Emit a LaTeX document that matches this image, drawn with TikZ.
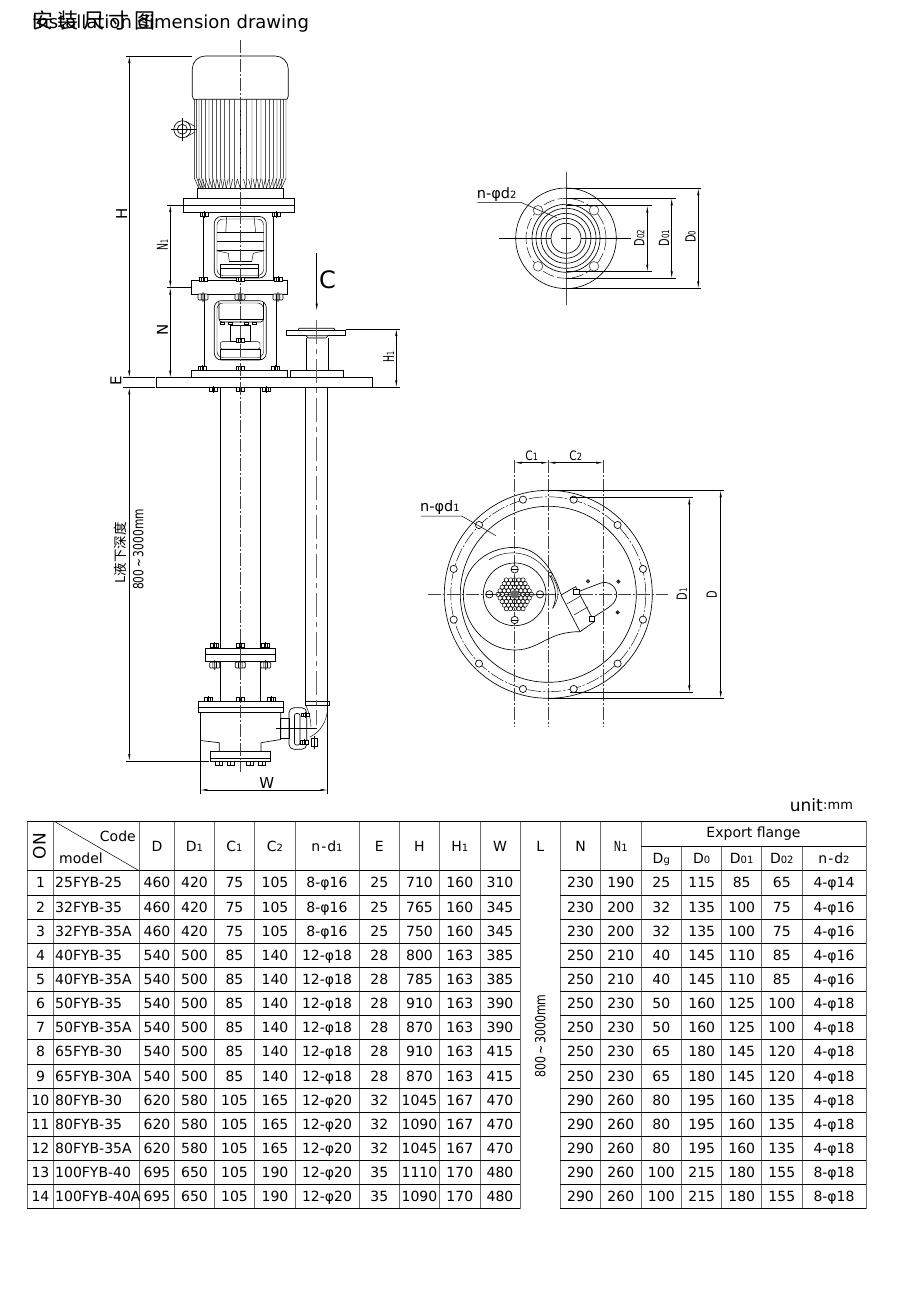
\documentclass[tikz,border=0pt]{standalone}
\usepackage{fontspec}
\setmainfont{DejaVu Sans}
\newfontfamily\cjkfont{Noto Sans CJK SC}
\usetikzlibrary{arrows.meta}

\newcommand{\sm}[1]{{\fontsize{10}{10}\selectfont #1}}
\newcommand{\pinch}[1]{\scalebox{.7}[1]{#1}}
\newcommand{\nutsmall}[2]{\draw[line width=.55pt,shift={(#1,#2)},fill=white] (-4,-1.8) rectangle (4,1.8) (-1.4,-1.8) -- (-1.4,1.8) (1.4,-1.8) -- (1.4,1.8) (0,-3.2) -- (0,3.2);}
\newcommand{\nutbig}[2]{\draw[line width=.65pt,shift={(#1,#2)},fill=white,rounded corners=1pt] (-5,-3) rectangle (5,3) (-1.8,-3) -- (-1.8,3) (1.8,-3) -- (1.8,3) (0,-5) -- (0,5);}

\tikzset{
  part/.style={line width=.65pt},
  thinpart/.style={line width=.45pt},
  dimline/.style={line width=.5pt,>={Latex[length=7pt,width=2.2pt]},<->},
  extline/.style={line width=.5pt},
  centerline/.style={line width=.5pt,black!75,dash pattern=on 13pt off 2pt on 2pt off 2pt},
  pipeaxis/.style={line width=1pt,black!60,dash pattern=on 24pt off 5pt on 5pt off 5pt},
  dimtext/.style={font=\fontsize{14.5}{16}\selectfont,inner sep=0pt},
  sidetext/.style={font=\fontsize{15}{17}\selectfont,inner sep=0pt,rotate=90},
  tabtext/.style={font=\fontsize{14}{16}\selectfont,inner sep=0pt,text height=10.2pt,text depth=0pt},
  tabrule/.style={line width=.7pt,black},
  tabcol/.style={line width=.95pt,black!58},
}

\begin{document}
\begin{tikzpicture}[x=1pt,y=-1pt]
\useasboundingbox (0,0) rectangle (920,1304);

\node[anchor=west,inner sep=0pt,font=\cjkfont\fontsize{21}{24}\selectfont] (titlezh) at (32,20.5) {安\hspace{4.5pt}装\hspace{4.5pt}尺\hspace{4.5pt}寸\hspace{4.5pt}图};
\node[anchor=west,inner sep=0pt,font=\fontsize{18}{22}\selectfont] (titleen) at (32,24) {Installation dimension drawing};

% motor
\draw[part,rounded corners=13pt] (192.3,96) -- (192.3,56) -- (288.3,56) -- (288.3,96);
\draw[part] (192.3,96) -- (193.5,99.3) -- (287,99.3) -- (288.3,96);
\foreach \rib in {194.3,196.7,199,201.7,205.3,209,212.7,216.7,220.7,224.7,229.3,234.3,240.3,246.7,252,256.7,261,265.7,269.3,273.3,277,280.3,283.3,286}{
  \draw[thinpart] (\rib,99.3) -- (\rib,178) -- ({240.3+(\rib-240.3)*.9},188.3);
  \draw[thinpart] ({240.3+(\rib-240.3)*.9},188.3) -- ({\rib+(240.3-\rib)*.03+3*(\rib<240)-3*(\rib>240)},179);
}
\draw[part] (197.7,188.3) rectangle (283.7,198.3);
\draw[part] (183.3,198.3) rectangle (294.3,212.7);
\draw[thinpart] (183.3,205) -- (294.3,205);

\draw[part] (182.3,129.3) circle (8.5);
\draw[part] (182.3,129.3) circle (5);
\draw[thinpart] (171,129.3) -- (197,129.3) (182.3,118) -- (182.3,141);
\draw[thinpart] (186,121.5) -- (195,126.5) (186,137) -- (195,132);

% upper lantern
\draw[part] (203.3,212.7) -- (203.3,280.3) (273.3,212.7) -- (273.3,280.3);
\draw[part,rounded corners=7pt] (214.3,216.5) rectangle (266.3,278);
\draw[thinpart,rounded corners=6pt] (217,219) rectangle (263.5,275.5);
\draw[thinpart] (216.7,232.7) -- (264.3,232.7) (216.7,241.7) -- (264.3,241.7);
\draw[part] (216.7,250.7) -- (264.3,250.7);
\draw[thinpart] (226.7,217) -- (225.7,232.7) (254,217) -- (255.7,232.7);
\draw[thinpart] (216.7,250.7) -- (228.3,253.3) -- (229.3,261.7) -- (251.7,261.7) -- (253.3,253.3) -- (264.3,250.7);
\draw[line width=1.2pt] (229.3,261.7) -- (251.7,261.7);
\draw[thinpart] (220,264.3) rectangle (258.7,277.3) (220,268.3) -- (258.7,268.3);
\nutsmall{204}{214.5}
\nutsmall{276}{214.5}

\draw[part] (191.3,280.3) rectangle (287,294.7);
\nutsmall{203}{279}
\nutsmall{240}{279}
\nutsmall{278}{279}
\nutbig{203}{297}
\nutbig{240}{297}
\nutbig{278}{297}

% lower lantern
\draw[part] (204.3,294.7) -- (204.3,370.7) (276,294.7) -- (276,370.7);
\draw[part,rounded corners=7pt] (214.3,300.7) rectangle (266.3,360);
\draw[thinpart,rounded corners=6pt] (217,303) rectangle (263.5,357.5);
\draw[part,rounded corners=3pt] (219,302) -- (219,322) -- (263.5,322) -- (263.5,302);
\draw[thinpart] (219,319) -- (263.5,319);
\foreach \sx in {222,230,246,254}{
  \draw[thinpart] (\sx-2,322) rectangle (\sx+2,324.5);
}
\draw[thinpart] (230.7,325) rectangle (250.7,341.7);
\draw[thinpart,rounded corners=2pt] (220.3,341.7) rectangle (260,349);
\draw[thinpart] (220.3,349) rectangle (260,359);
\nutsmall{240}{340}

\draw[part] (191.3,370.7) rectangle (287.3,377.7);
\draw[part] (290.3,370.7) rectangle (343.3,377.7);
\draw[part] (156.3,377.7) rectangle (372,387.3);
\nutsmall{202}{368}
\nutsmall{240}{368}
\nutsmall{275.5}{368}
\nutsmall{213.3}{389.5}
\nutsmall{240.3}{389.5}
\nutsmall{266.7}{389.5}

% outlet pipe
\draw[part] (286,330) rectangle (345.7,335.7);
\draw[part] (298,330) -- (299,328.3) -- (334,328.3) -- (335,330);
\draw[part,fill=black!10] (306,335.7) -- (308,338) -- (326,338) -- (328,335.7);
\draw[part] (306,338) -- (306,370.7) (328,338) -- (328,370.7);
\draw[part] (305.7,387.3) -- (305.7,701.7) (327.7,387.3) -- (327.7,794);
\draw[part] (305,701.7) rectangle (329,705);
\draw[thinpart] (327.7,705) .. controls (327.7,722) and (320,732) .. (310,737);
\draw[thinpart] (305.7,705) .. controls (309,712) and (311,720) .. (311,727);

% shaft and column
\draw[part] (220.3,387.3) -- (220.3,648.3) (260.3,387.3) -- (260.3,648.3);
\draw[part] (205.7,648.3) rectangle (275.3,661.3);
\draw[thinpart] (205.7,654.3) -- (275.3,654.3);
\draw[part] (220.3,661.3) -- (220.3,701) (260.3,661.3) -- (260.3,701);
\nutsmall{214.7}{645.5}
\nutsmall{240.3}{645.5}
\nutsmall{265.7}{645.5}
\nutbig{214.7}{665}
\nutbig{240.3}{665}
\nutbig{265.7}{665}
\nutsmall{208.7}{699}
\nutsmall{240.3}{699}
\nutsmall{271.7}{699}

% pump casing
\draw[part] (198.3,701) rectangle (283,712);
\draw[thinpart] (198.3,707.3) -- (283,707.3);
\draw[part] (200.3,712) -- (200.3,794);
\draw[part] (200.3,740.5) -- (219.3,742.7) -- (219.3,751.7);
\draw[part] (280.7,712) -- (280.7,739.5) -- (261,742.7) -- (261,751.7);
\draw[part] (210.7,751.7) rectangle (270.3,761.7);
\draw[thinpart] (210.7,758.3) -- (270.3,758.3);
\foreach \fx in {219,230.7,250,262}{
  \draw[thinpart] (\fx-3.5,761.7) rectangle (\fx+3.5,765);
  \draw[thinpart] (\fx,761.7) -- (\fx,765);
}
\draw[part] (280.7,718) rectangle (289,738);
\draw[part,rounded corners=5pt] (289,707.7) rectangle (306.7,749.3);
\draw[part,rounded corners=2pt] (294.5,713.5) rectangle (300,745);
\nutsmall{305}{714.7}
\nutsmall{304}{742}
\draw[thinpart] (311,738.5) rectangle (317.5,746);
\draw[thinpart] (314.3,736) -- (314.3,749);
\draw[line width=.7pt] (275.7,728.3) -- (316.7,728.3);

% center lines
\draw[centerline] (240.3,40) -- (240.3,771.7);
\draw[pipeaxis] (316.7,320) -- (316.7,725);

% arrow C
\draw[line width=.5pt,->,>={Latex[length=7pt,width=2.2pt]}] (316.7,253.3) -- (316.7,310.7);
\node[inner sep=0pt,font=\fontsize{24}{26}\selectfont] (viewc) at (327.5,279.5) {C};

% dimensions of the pump
\draw[extline] (126,56) -- (192.3,56);
\draw[extline] (123,377.7) -- (155,377.7) (123,387.3) -- (155,387.3);
\draw[extline] (126,761) -- (209,761);
\draw[dimline] (129.3,56) -- (129.3,377.7);
\draw[dimline] (129.3,387.3) -- (129.3,761);
\node[sidetext] (labelH) at (121.7,214.3) {H};
\node[sidetext] (labelE) at (116,380.5) {E};
\node[sidetext,font=\cjkfont\fontsize{13.5}{15}\selectfont] (labelL) at (120,553) {L液下深度};
\node[sidetext,font=\fontsize{14}{16}\selectfont] (labelLrange) at (138.3,549.5) {\scalebox{.76}[1]{800\,\textasciitilde\,3000mm}};

\draw[extline] (166.7,205) -- (183.3,205) (166.7,287.7) -- (191.3,287.7);
\draw[dimline] (170.3,205) -- (170.3,287.7);
\draw[dimline] (170.3,287.7) -- (170.3,377.7);
\node[sidetext] (labelNa) at (162.3,245) {\scalebox{.62}[1]{N\sm{1}}};
\node[sidetext] (labelN) at (162.3,330) {N};

\draw[extline] (345.7,329) -- (400,329) (372,387.3) -- (400,387.3);
\draw[dimline] (396.3,329) -- (396.3,387.3);
\node[sidetext] (labelHa) at (388.7,356.7) {\scalebox{.62}[1]{H\sm{1}}};

\draw[dimline] (200.3,790) -- (327.7,790);
\node[inner sep=0pt,font=\fontsize{15}{17}\selectfont] (labelW) at (266.7,783) {W};

% export flange view
\draw[part] (566,238.3) circle (50.3);
\draw[thinpart,dash pattern=on 12pt off 3pt] (566,238.3) circle (40);
\foreach \rr in {15,20,25,30,34}{
  \draw[part] (566,238.3) circle (\rr);
}
\foreach \hx/\hy in {538/210.3,594/210.3,538/266.3,594/266.3}{
  \draw[part,black!70,fill=white] (\hx,\hy) circle (4.8);
}
\draw[line width=.6pt,black!70] (566,171.7) -- (566,305);
\draw[line width=.6pt] (499.3,238.3) -- (551,238.3) (581,238.3) -- (631,238.3) (561,238.3) -- (571,238.3);
\draw[extline] (566,188.3) -- (701,188.3) (566,288.3) -- (701,288.3);
\draw[extline] (566,198.3) -- (676,198.3) (566,278.3) -- (676,278.3);
\draw[extline] (566,205.7) -- (651.7,205.7) (566,271.5) -- (651.7,271.5);
\draw[dimline] (698.3,188.3) -- (698.3,288.3);
\draw[dimline] (671.7,198.3) -- (671.7,278.3);
\draw[dimline] (647.3,205.7) -- (647.3,271.5);
\node[sidetext,font=\fontsize{14}{16}\selectfont] (labelDb) at (639.3,238) {\pinch{D\sm{02}}};
\node[sidetext,font=\fontsize{14}{16}\selectfont] (labelDa) at (664,238) {\pinch{D\sm{01}}};
\node[sidetext,font=\fontsize{14}{16}\selectfont] (labelDo) at (690.7,236.7) {\pinch{D\sm{0}}};
\node[dimtext] (labelhb) at (496.7,194.3) {n-φd\sm{2}};
\draw[extline] (477.3,202.3) -- (520.7,202.3) -- (556.7,217.7);

% base plate view
\draw[part] (548.3,594.3) circle (104);
\draw[part] (548.3,594.3) circle (88);
\draw[thinpart,dash pattern=on 14pt off 2pt on 2pt off 2pt] (548.3,594.3) circle (97.5);
\foreach \ang in {15,45,...,345}{
  \draw[part,fill=white] (548.3,594.3) ++(\ang:-98) circle (3.6);
}
\draw[centerline] (428.3,594.3) -- (668.3,594.3);
\draw[centerline] (548.3,460) -- (548.3,726.7);
\draw[centerline] (514.7,460) -- (514.7,726.7);
\draw[centerline] (603.3,460) -- (603.3,726.7);

\begin{scope}[shift={(410,440)},scale=1/3]
\draw[part] (452,462) .. controls (440,420) and (400,322) .. (314,322) .. controls (225,322) and (160,385) .. (160,463) .. controls (160,560) and (235,630) .. (314,630) .. controls (390,630) and (410,575) .. (510,575);
\draw[thinpart] (237,360) .. controls (270,335) and (350,320) .. (405,385) .. controls (430,415) and (465,450) .. (428,505);
\draw[part] (428,505) .. controls (445,470) and (435,430) .. (415,400);
\draw[part] (497,458) -- (570,430) .. controls (595,420) and (620,440) .. (620,463) .. controls (620,490) and (600,500) .. (553,530);
\draw[part,fill=white] (453,465) -- (497,440) -- (553,545) -- (510,575) -- cycle;
\draw[thinpart] (470,492) -- (512,468) (492,525) -- (535,500);
\draw[part,fill=white] (490,448) rectangle (508,463);
\draw[part,fill=white] (538,528) rectangle (554,544);
\draw[part,fill=white] (421,403) circle (6);
\foreach \dx/\dy in {534/424,625/425,623/517}{
  \draw[part] (\dx,\dy) circle (5);
  \fill (\dx,\dy) circle (2.5);
}
\draw[part] (314,463) circle (94);
\foreach \bx/\by in {314/388,314/540,238/463,390/463}{
  \draw[part,fill=white] (\bx,\by) circle (11);
  \draw[thinpart] (\bx-11,\by) -- (\bx+11,\by);
}
\foreach \i in {-4,...,4}{
  \foreach \j in {-4,...,4}{
    \pgfmathtruncatemacro{\hexin}{abs(\i+\j)<=4 ? 1 : 0}
    \ifnum\hexin=1
      \draw[line width=.5pt] ({314+12.5*\i+6.25*\j},{463+10.8*\j}) circle (6.5);
    \fi
  }
}
\fill[black!60] (314,463) circle (13);
\end{scope}

\draw[extline] (548.3,490.3) -- (724,490.3) (548.3,698.3) -- (724,698.3);
\draw[extline] (570,497.3) -- (692.7,497.3) (570,692.3) -- (692.7,692.3);
\draw[dimline] (720.7,490.3) -- (720.7,698.3);
\draw[dimline] (689.3,497.3) -- (689.3,692.3);
\draw[dimline] (514.7,462.7) -- (548.3,462.7);
\draw[dimline] (548.3,462.7) -- (603.3,462.7);
\node[inner sep=0pt,font=\fontsize{13}{15}\selectfont] (labelCa) at (531.7,455.7) {\scalebox{.82}[1]{C\sm{1}}};
\node[inner sep=0pt,font=\fontsize{13}{15}\selectfont] (labelCb) at (575.7,455.7) {\scalebox{.82}[1]{C\sm{2}}};
\node[sidetext,font=\fontsize{14}{16}\selectfont] (labelDone) at (681.7,594.3) {\pinch{D\sm{1}}};
\node[sidetext,font=\fontsize{14}{16}\selectfont] (labelD) at (711.7,594.3) {\pinch{D}};
\node[dimtext] (labelha) at (440,507.7) {n-φd\sm{1}};
\draw[extline] (421,516) -- (461.7,516) -- (496,535.7);

% table
\node[anchor=east,inner sep=0pt,font=\fontsize{17}{20}\selectfont] (unitname) at (823,805) {unit};
\node[anchor=west,inner sep=0pt,font=\fontsize{13}{15}\selectfont] (unitvalue) at (823,805.5) {:mm};

\foreach \cx in {27.3,53.7,139,174.7,214.7,254.7,295,359.3,399.3,439.7,480,520.3,560.3,600.7,641,866}{
  \draw[tabcol] (\cx,821) -- (\cx,1208.8);
}
\foreach \cx in {681.7,721.7,761.7,802}{
  \draw[tabcol] (\cx,846) -- (\cx,1208.8);
}
\draw[tabrule] (27.3,821) -- (866,821);
\draw[tabrule] (641,846) -- (866,846);
\foreach \rk in {0,...,14}{
  \pgfmathsetmacro{\ry}{870.7+24.15*\rk}
  \draw[tabrule] (27.3,\ry) -- (520.3,\ry) (560.3,\ry) -- (866,\ry);
}
\draw[line width=.5pt] (53.7,821) -- (139,870.7);

\node[rotate=90,inner sep=0pt,font=\fontsize{17}{20}\selectfont] (headno) at (39.5,846) {ON};
\node[anchor=east,tabtext] (headcode) at (136,836) {Code};
\node[anchor=west,tabtext] (headmodel) at (59,858) {model};
\foreach \cx/\val [count=\k] in {157/D,194.5/D\sm{1},234.5/C\sm{1},275/C\sm{2},327/n\kern1pt-\kern1pt d\sm{1},379.3/E,419.5/H,459.8/H\sm{1},500/W,540.3/L,580.5/N,620.8/\pinch{N}\sm{1}}{
  \node[tabtext] (head\k) at (\cx,846) {\val};
}
\node[tabtext] (headflange) at (753.5,832.5) {Export flange};
\foreach \cx/\val [count=\k] in {661.3/D\sm{g},701.7/D\sm{0},741.7/D\sm{01},781.8/D\sm{02},834/n\kern1pt-\kern1pt d\sm{2}}{
  \node[tabtext] (sub\k) at (\cx,858.5) {\val};
}
\node[rotate=90,inner sep=0pt,font=\fontsize{14}{16}\selectfont] (rangeL) at (540.3,1036) {\scalebox{.78}[1]{800\,\textasciitilde\,3000mm}};

\foreach \no/\model/\vD/\vDa/\vCa/\vCb/\vnd/\vE/\vH/\vHa/\vW/\vN/\vNa/\vDg/\vDo/\vDoa/\vDob/\vndb in {
  1/25FYB-25/460/420/75/105/8-φ16/25/710/160/310/230/190/25/115/85/65/4-φ14,
  2/32FYB-35/460/420/75/105/8-φ16/25/765/160/345/230/200/32/135/100/75/4-φ16,
  3/32FYB-35A/460/420/75/105/8-φ16/25/750/160/345/230/200/32/135/100/75/4-φ16,
  4/40FYB-35/540/500/85/140/12-φ18/28/800/163/385/250/210/40/145/110/85/4-φ16,
  5/40FYB-35A/540/500/85/140/12-φ18/28/785/163/385/250/210/40/145/110/85/4-φ16,
  6/50FYB-35/540/500/85/140/12-φ18/28/910/163/390/250/230/50/160/125/100/4-φ18,
  7/50FYB-35A/540/500/85/140/12-φ18/28/870/163/390/250/230/50/160/125/100/4-φ18,
  8/65FYB-30/540/500/85/140/12-φ18/28/910/163/415/250/230/65/180/145/120/4-φ18,
  9/65FYB-30A/540/500/85/140/12-φ18/28/870/163/415/250/230/65/180/145/120/4-φ18,
  10/80FYB-30/620/580/105/165/12-φ20/32/1045/167/470/290/260/80/195/160/135/4-φ18,
  11/80FYB-35/620/580/105/165/12-φ20/32/1090/167/470/290/260/80/195/160/135/4-φ18,
  12/80FYB-35A/620/580/105/165/12-φ20/32/1045/167/470/290/260/80/195/160/135/4-φ18,
  13/100FYB-40/695/650/105/190/12-φ20/35/1110/170/480/290/260/100/215/180/155/8-φ18,
  14/100FYB-40A/695/650/105/190/12-φ20/35/1090/170/480/290/260/100/215/180/155/8-φ18}{
  \pgfmathsetmacro{\ry}{870.7+24.15*(\no-.5)}
  \node[tabtext] (no\no) at (40.5,\ry) {\no};
  \node[tabtext,anchor=west] (model\no) at (55,\ry) {\model};
  \foreach \cx/\val [count=\k] in {157/\vD,194.5/\vDa,234.5/\vCa,275/\vCb,327/\vnd,379.3/\vE,419.5/\vH,459.8/\vHa,500/\vW,580.5/\vN,620.8/\vNa,661.3/\vDg,701.7/\vDo,741.7/\vDoa,781.8/\vDob,834/\vndb}{
    \node[tabtext] (cell\no-\k) at (\cx,\ry) {\val};
  }
}

\end{tikzpicture}
\end{document}
